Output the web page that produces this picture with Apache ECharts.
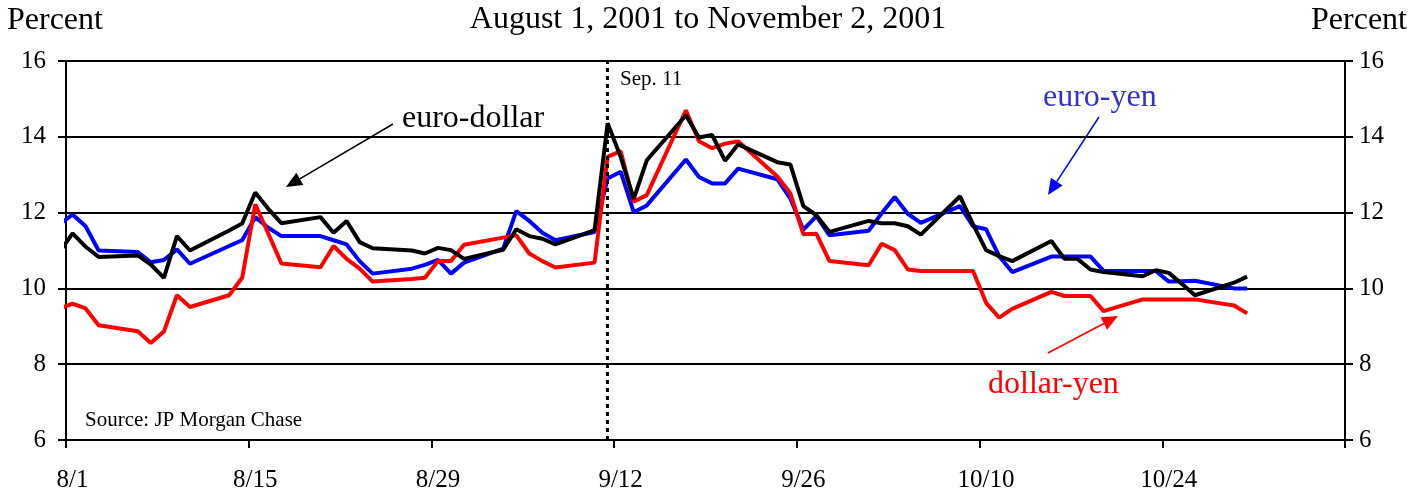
<!DOCTYPE html>
<html>
<head>
<meta charset="utf-8">
<script src="https://cdn.jsdelivr.net/npm/echarts@6/dist/echarts.min.js"></script>
<style>
html, body { margin: 0; padding: 0; background: #fff; }
#chart { width: 1408px; height: 498px; }
</style>
</head>
<body>
<div id="chart"></div>
<script>
// trading days (2001); 7/31 is only there for the stub at the left edge
var dates = ['7/31', '8/1', '8/2', '8/3', '8/6', '8/7', '8/8', '8/9', '8/10', '8/13', '8/14', '8/15', '8/16', '8/17',
    '8/20', '8/21', '8/22', '8/23', '8/24', '8/27', '8/28', '8/29', '8/30', '8/31',
    '9/3', '9/4', '9/5', '9/6', '9/7', '9/10', '9/11', '9/12', '9/13', '9/14', '9/17', '9/18', '9/19', '9/20', '9/21',
    '9/24', '9/25', '9/26', '9/27', '9/28',
    '10/1', '10/2', '10/3', '10/4', '10/5', '10/8', '10/9', '10/10', '10/11', '10/12', '10/15', '10/16', '10/17', '10/18', '10/19',
    '10/22', '10/23', '10/24', '10/25', '10/26', '10/29', '10/30'];

var euroDollar = [10.95, 11.45, 11.10, 10.83, 10.87, 10.63, 10.28, 11.38, 11.00, 11.53, 11.71, 12.53, 12.10, 11.72,
    11.88, 11.47, 11.78, 11.22, 11.06, 11.00, 10.92, 11.07, 11.01, 10.78,
    11.02, 11.56, 11.38, 11.31, 11.16, 11.54, 14.36, 13.47, 12.36, 13.38, 14.57, 13.98, 14.05, 13.37, 13.80,
    13.33, 13.27, 12.17, 11.93, 11.49,
    11.78, 11.72, 11.72, 11.64, 11.42, 12.43, 11.69, 11.01, 10.85, 10.72, 11.25, 10.78, 10.78, 10.50, 10.43,
    10.32, 10.48, 10.41, 10.12, 9.82, 10.15, 10.31];

var euroYen = [11.69, 11.95, 11.64, 11.00, 10.96, 10.69, 10.75, 11.03, 10.65, 11.12, 11.27, 11.88, 11.60, 11.38,
    11.38, 11.27, 11.16, 10.72, 10.39, 10.52, 10.62, 10.75, 10.39, 10.68,
    11.05, 12.04, 11.78, 11.47, 11.27, 11.49, 12.90, 13.08, 12.01, 12.19, 13.40, 12.94, 12.77, 12.77, 13.16,
    12.88, 12.37, 11.55, 11.91, 11.40,
    11.52, 11.98, 12.41, 11.97, 11.73, 12.17, 11.64, 11.56, 10.85, 10.43, 10.84, 10.84, 10.84, 10.84, 10.46,
    10.46, 10.46, 10.18, 10.19, 10.20, 10.00, 10.00];

var dollarYen = [9.46, 9.60, 9.47, 9.03, 8.87, 8.56, 8.86, 9.82, 9.51, 9.82, 10.28, 12.22, 11.45, 10.66,
    10.56, 11.12, 10.78, 10.52, 10.18, 10.25, 10.28, 10.72, 10.72, 11.15,
    11.34, 11.40, 10.92, 10.72, 10.55, 10.68, 13.47, 13.62, 12.29, 12.46, 14.70, 13.88, 13.70, 13.82, 13.88,
    12.95, 12.51, 11.43, 11.44, 10.72,
    10.61, 11.18, 11.01, 10.50, 10.46, 10.46, 10.46, 9.62, 9.23, 9.46, 9.91, 9.80, 9.80, 9.80, 9.40,
    9.71, 9.71, 9.71, 9.71, 9.71, 9.55, 9.34];

var xTickLabels = ['8/1', '8/15', '8/29', '9/12', '9/26', '10/10', '10/24', ''];
var yTicks = [6, 8, 10, 12, 14, 16];
var eventDate = '9/11';

var serif = 'Liberation Serif';

// days after Aug 1, plotted at mid-day like the original
function dayOf(md) {
    var p = md.split('/');
    return (Date.UTC(2001, +p[0] - 1, +p[1]) - Date.UTC(2001, 7, 1)) / 86400000 + 0.5;
}

function pairs(values) {
    var out = [];
    for (var i = 0; i < dates.length; i++) {
        out.push([dayOf(dates[i]), values[i]]);
    }
    return out;
}

function arrow(x1, y1, x2, y2, color) {
    var dx = x2 - x1, dy = y2 - y1;
    var len = Math.sqrt(dx * dx + dy * dy);
    var ux = dx / len, uy = dy / len;
    var hl = 16, hw = 7;
    var bx = x2 - ux * hl, by = y2 - uy * hl;
    return [
        { type: 'line', shape: { x1: x1, y1: y1, x2: bx, y2: by }, style: { stroke: color, lineWidth: 1.5 } },
        { type: 'polygon', shape: { points: [[x2, y2], [bx - uy * hw, by + ux * hw], [bx + uy * hw, by - ux * hw]] }, style: { fill: color } }
    ];
}

function label(text, x, y, size, color, align) {
    return {
        type: 'text', x: x, y: y,
        style: { text: text, font: size + 'px "' + serif + '"', fill: color, align: align || 'left', verticalAlign: 'middle' }
    };
}

var chart = echarts.init(document.getElementById('chart'));

var yMin = yTicks[0], yMax = yTicks[yTicks.length - 1];

var graphics = [
    label('Percent', 7, 20.5, 32, '#000'),
    label('Percent', 1407, 20.5, 32, '#000', 'right'),
    label('August 1, 2001 to November 2, 2001', 708, 20, 32, '#000', 'center'),
    label('euro-dollar', 402, 118.5, 32, '#000'),
    label('Sep. 11', 620, 79.5, 21, '#000'),
    label('euro-yen', 1043, 97.5, 32, '#3333cc'),
    label('dollar-yen', 988, 384.5, 32, '#ff0000'),
    label('Source: JP Morgan Chase', 85, 420, 21, '#000')
].concat(arrow(393, 124, 286, 187, '#000'))
 .concat(arrow(1099, 117, 1048, 195, '#0000ff'))
 .concat(arrow(1048, 353, 1118, 316, '#ff0000'));

var option = {
    animation: false,
    backgroundColor: '#fff',
    grid: { left: 66, right: 63, top: 61, bottom: 58, outerBoundsMode: 'none' },
    xAxis: {
        type: 'value',
        min: 0,
        max: 98,
        interval: 14,
        axisLine: { show: true, onZero: false, lineStyle: { color: '#000', width: 2 } },
        axisTick: { show: true, length: 8, lineStyle: { color: '#000', width: 2 } },
        axisLabel: {
            show: true, margin: 28, color: '#000', fontFamily: serif, fontSize: 25,
            padding: [0, 0, 0, 13],
            formatter: function (v) { return xTickLabels[Math.round(v / 14)] || ''; }
        },
        splitLine: { show: false }
    },
    yAxis: [{
        type: 'value', position: 'left', min: yMin, max: yMax, interval: 2,
        axisLine: { show: true, lineStyle: { color: '#000', width: 2 } },
        axisTick: { show: true, length: 8, lineStyle: { color: '#000', width: 2 } },
        axisLabel: { show: true, margin: 20, color: '#000', fontFamily: serif, fontSize: 25 },
        splitLine: { show: true, lineStyle: { color: '#000', width: 2 } }
    }, {
        type: 'value', position: 'right', min: yMin, max: yMax, interval: 2,
        axisLine: { show: true, lineStyle: { color: '#000', width: 2 } },
        axisTick: { show: true, length: 8, lineStyle: { color: '#000', width: 2 } },
        axisLabel: { show: true, margin: 14, color: '#000', fontFamily: serif, fontSize: 25 },
        splitLine: { show: false }
    }],
    graphic: graphics,
    series: [{
        name: 'euro-yen', type: 'line', data: pairs(euroYen), showSymbol: false, symbol: 'none',
        lineStyle: { color: '#0000ff', width: 4 }, z: 3
    }, {
        name: 'dollar-yen', type: 'line', data: pairs(dollarYen), showSymbol: false, symbol: 'none',
        lineStyle: { color: '#ff0000', width: 4 }, z: 4
    }, {
        name: 'euro-dollar', type: 'line', data: pairs(euroDollar), showSymbol: false, symbol: 'none',
        lineStyle: { color: '#000', width: 4 }, z: 5,
        markLine: {
            silent: true, symbol: 'none', label: { show: false },
            lineStyle: { color: '#000', width: 3, type: [4, 4] },
            data: [{ xAxis: dayOf(eventDate) }]
        }
    }]
};

chart.setOption(option);
</script>
</body>
</html>
